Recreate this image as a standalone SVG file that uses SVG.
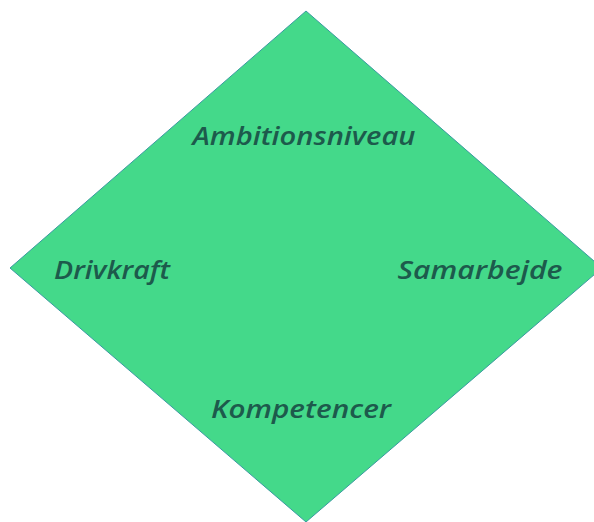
<svg xmlns="http://www.w3.org/2000/svg" width="594" height="522" viewBox="0 0 594 522">
<style>
.lbl{font-family:"Open Sans","Liberation Sans",Arial,sans-serif;font-style:italic;font-weight:600;font-size:25px;fill:#1d5a4c;text-anchor:middle}
</style>
<rect width="594" height="522" fill="#ffffff"/>
<g id="diamond">
<polygon points="306,11 602,268 306,522 10,268" fill="#44d98a" stroke="#3a9aa0" stroke-width="1"/>
</g>
<g id="connectors"></g>
<g id="ambitionsniveau"><text class="lbl" x="304" y="145" textLength="223" lengthAdjust="spacingAndGlyphs">Ambitionsniveau</text></g>
<g id="drivkraft"><text class="lbl" x="112" y="279" textLength="116" lengthAdjust="spacingAndGlyphs">Drivkraft</text></g>
<g id="samarbejde"><text class="lbl" x="480" y="279" textLength="165" lengthAdjust="spacingAndGlyphs">Samarbejde</text></g>
<g id="kompetencer"><text class="lbl" x="301" y="418" textLength="180" lengthAdjust="spacingAndGlyphs">Kompetencer</text></g>
</svg>
